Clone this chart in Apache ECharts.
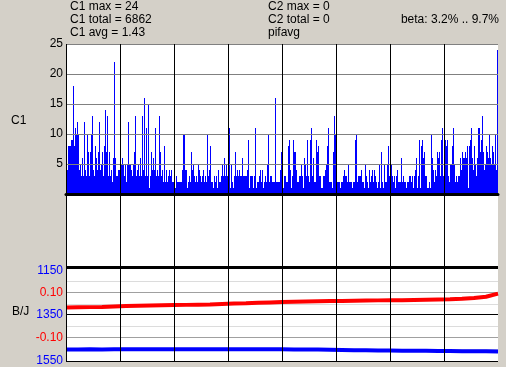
<!DOCTYPE html>
<html>
<head>
<meta charset="utf-8">
<script src="https://cdn.jsdelivr.net/npm/echarts@6/dist/echarts.min.js"></script>
<style>
html,body{margin:0;padding:0;background:#d4d0c8;}
#chart{width:506px;height:367px;}
</style>
</head>
<body>
<div id="chart"></div>
<script>
// ---- data ----
const headerLeft = ['C1 max = 24', 'C1 total = 6862', 'C1 avg = 1.43'];
const headerMid = ['C2 max = 0', 'C2 total = 0', 'pifavg'];
const betaLabel = 'beta: 3.2% .. 9.7%';
const topAxisName = 'C1';
const lowAxisName = 'B/J';

const c1Ticks = [5, 10, 15, 20, 25];
const blueTicks = [1150, 1350, 1550];
const redTicks = [0.1, -0.1];

// C1 counts, one per pixel column
const c1Values = [
  4,4,8,8,8,9,9,18,8,11,10,12,10,4,5,3,6,3,12,4,3,10,7,3,7,10,13,4,3,8,6,4,7,12,4,5,7,3,8,14,7,13,3,7,3,4,2,6,22,6,3,3,4,4,
  16,5,6,5,3,5,2,5,12,5,5,4,3,5,7,13,3,4,5,3,6,3,13,4,16,3,11,3,15,1,3,7,4,6,4,11,3,4,3,13,7,3,4,2,8,2,4,2,3,4,3,4,2,2,
  2,1,3,2,2,2,2,2,4,10,10,4,4,1,2,3,2,7,4,5,3,2,3,2,5,4,3,2,3,4,2,3,2,10,3,4,8,2,2,1,3,2,3,1,4,2,2,3,5,3,6,3,5,3,
  11,11,1,5,2,1,3,7,3,4,3,4,3,3,6,3,3,3,3,4,9,1,3,3,3,1,3,11,1,2,2,3,4,2,4,1,2,3,2,5,10,2,3,3,2,2,2,16,2,2,2,2,4,7,
  3,1,3,3,2,2,8,9,4,1,3,9,7,7,4,2,2,3,3,5,3,1,6,5,3,9,3,2,9,11,3,6,2,2,9,7,8,3,3,1,1,3,3,4,5,8,11,2,2,2,1,7,13,10,
  10,2,2,2,1,2,2,3,4,3,3,2,5,2,2,2,1,2,2,9,10,2,3,3,3,4,2,2,1,5,3,2,1,4,2,3,4,2,4,3,2,1,2,5,1,7,2,1,5,2,2,5,8,3,
  5,5,3,2,3,1,3,4,2,2,2,6,2,3,2,2,1,2,2,3,3,2,3,1,3,4,6,1,3,9,1,8,9,6,7,3,3,1,1,2,1,10,6,4,2,4,3,7,6,7,3,9,11,3,10,
  9,8,9,3,2,5,5,8,11,5,2,3,2,3,3,6,4,7,6,6,7,6,8,1,8,9,11,6,4,8,5,3,6,11,11,7,9,13,7,4,5,8,7,6,10,6,5,8,7,5,10,4,24
];

// beta (red, left inner scale)
const betaValues = [
  0.033,0.034,0.035,0.036,0.038,0.040,0.041,0.042,0.043,0.044,0.045,0.046,0.047,
  0.049,0.051,0.052,0.054,0.056,0.058,0.059,0.060,0.061,0.062,0.062,0.063,0.064,
  0.065,0.066,0.066,0.067,0.068,0.069,0.070,0.072,0.076,0.081,0.095
];
// J (blue, inverted scale)
const jValues = [
  1501,1501,1500,1501,1500,1500,1500,1500,1500,1500,1500,1500,1500,
  1500,1500,1500,1500,1500,1500,1501,1501,1501,1502,1503,1504,1504,
  1505,1505,1506,1506,1506,1507,1507,1508,1508,1508,1509
];

const c1Cats = c1Values.map((_, i) => String(i));
const lineCats = betaValues.map((_, i) => String(i));

const FONT = 'Liberation Sans';
const chart = echarts.init(document.getElementById('chart'), null, {renderer: 'canvas'});

const graphics = [];
headerLeft.forEach((t, i) => graphics.push({type: 'text', x: 70, y: 7 + i * 12.6,
  style: {text: t, fill: '#000', font: '12px ' + FONT, verticalAlign: 'middle'}}));
headerMid.forEach((t, i) => graphics.push({type: 'text', x: 268, y: 7 + i * 12.6,
  style: {text: t, fill: '#000', font: '12px ' + FONT, verticalAlign: 'middle'}}));
graphics.push({type: 'text', x: 499, y: 19.6,
  style: {text: betaLabel, fill: '#000', font: '12px ' + FONT, align: 'right', verticalAlign: 'middle'}});
graphics.push({type: 'text', x: 11, y: 121,
  style: {text: topAxisName, fill: '#000', font: '12px ' + FONT, verticalAlign: 'middle'}});
graphics.push({type: 'text', x: 12, y: 312,
  style: {text: lowAxisName, fill: '#000', font: '12px ' + FONT, verticalAlign: 'middle'}});

const hidden = {show: false};
const option = {
  animation: false,
  backgroundColor: '#d4d0c8',
  textStyle: {fontFamily: FONT},
  graphic: graphics,
  grid: [
    {left: 66, right: 8, top: 44, bottom: 5, show: true, backgroundColor: '#ffffff', borderWidth: 0},
    {left: 66, right: 8, top: 44, height: 150},
    {left: 66, right: 8, top: 267.5, height: 95},
    {left: 66, right: 8, top: 270, height: 90},
    {left: 66, right: 62, top: 44, bottom: 5}
  ],
  xAxis: [
    {gridIndex: 0, type: 'value', min: 0, max: 1, show: false},
    {gridIndex: 1, type: 'category', data: c1Cats, z: 11,
     axisLine: {show: true, lineStyle: {color: '#000', width: 3}}, axisTick: hidden, axisLabel: hidden, splitLine: hidden},
    {gridIndex: 2, type: 'category', boundaryGap: false, data: lineCats, show: false},
    {gridIndex: 3, type: 'category', boundaryGap: false, data: lineCats, show: false},
    {gridIndex: 4, type: 'value', min: 0, max: 7, interval: 1, z: 12,
     axisLine: hidden, axisTick: hidden, axisLabel: hidden,
     splitLine: {show: true, lineStyle: {color: '#000', width: 1}}}
  ],
  yAxis: [
    {gridIndex: 0, type: 'value', min: 0, max: 1, show: false},
    {gridIndex: 1, type: 'value', min: 0, max: 25, interval: 5, z: 10,
     axisLine: hidden, axisTick: hidden,
     axisLabel: {color: '#000', fontSize: 12, fontFamily: FONT, margin: 3,
       formatter: v => c1Ticks.includes(v) ? String(v) : ''},
     splitLine: {show: true, lineStyle: {color: '#808080', width: 1}}},
    {gridIndex: 2, type: 'value', inverse: true, min: 1150, max: 1550, interval: 50,
     axisLine: hidden, axisTick: hidden, splitLine: hidden,
     axisLabel: {color: '#0000ff', fontSize: 12, fontFamily: FONT, margin: 3,
       formatter: v => v === blueTicks[0] ? '{low|' + v + '}' : (blueTicks.includes(v) ? String(v) : ''),
       rich: {low: {color: '#0000ff', fontSize: 12, fontFamily: FONT, padding: [6, 0, 0, 0]}}}},
    {gridIndex: 3, type: 'value', min: -0.2, max: 0.2, interval: 0.1,
     axisLine: hidden, axisTick: hidden, splitLine: hidden,
     axisLabel: {color: '#ff0000', fontSize: 12, fontFamily: FONT, margin: 3,
       formatter: v => redTicks.some(r => Math.abs(r - v) < 1e-9) ? v.toFixed(2) : ''}},
    {gridIndex: 4, type: 'value', min: 0, max: 1, show: false}
  ],
  series: [
    {type: 'bar', xAxisIndex: 1, yAxisIndex: 1, data: c1Values, barCategoryGap: 0, barGap: 0,
     large: true, largeThreshold: 100, clip: false,
     itemStyle: {color: '#0000ff'}},
    {type: 'line', xAxisIndex: 3, yAxisIndex: 3, data: betaValues, symbol: 'none', z: 3,
     lineStyle: {color: '#ff0000', width: 4},
     markLine: {silent: true, symbol: ['none', 'none'], label: hidden, z: 1, animation: false,
       data: [
         {yAxis: 0.15, lineStyle: {color: '#dcdcdc', width: 1, type: 'solid'}},
         {yAxis: 0.05, lineStyle: {color: '#dcdcdc', width: 1, type: 'solid'}},
         {yAxis: -0.05, lineStyle: {color: '#dcdcdc', width: 1, type: 'solid'}},
         {yAxis: -0.15, lineStyle: {color: '#dcdcdc', width: 1, type: 'solid'}},
         {yAxis: 0.1, lineStyle: {color: '#a0a0a0', width: 1, type: 'solid'}},
         {yAxis: -0.1, lineStyle: {color: '#a0a0a0', width: 1, type: 'solid'}}
       ]}},
    {type: 'line', xAxisIndex: 2, yAxisIndex: 2, data: jValues, symbol: 'none', z: 3,
     lineStyle: {color: '#0000ff', width: 4},
     markLine: {silent: true, symbol: ['none', 'none'], label: hidden, z: 12, animation: false,
       data: [
         {yAxis: 1150, lineStyle: {color: '#000', width: 3, type: 'solid'}},
         {yAxis: 1350, lineStyle: {color: '#000', width: 1, type: 'solid'}},
         {yAxis: 1550, lineStyle: {color: '#000', width: 1, type: 'solid'}}
       ]}}
  ]
};
chart.setOption(option);
</script>
</body>
</html>
